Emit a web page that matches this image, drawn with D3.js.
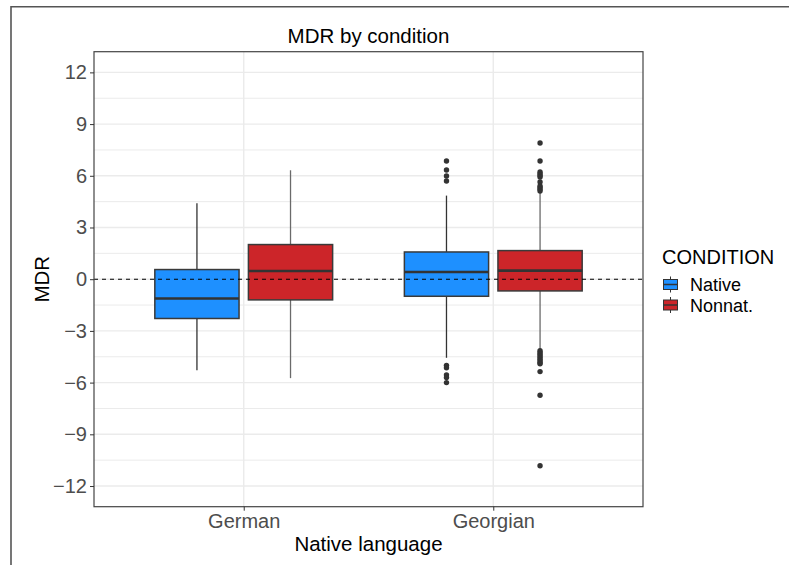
<!DOCTYPE html>
<html><head><meta charset="utf-8">
<script src="https://cdn.jsdelivr.net/npm/d3@7"></script>
<style>
html,body{margin:0;padding:0;background:#fff;}
svg{display:block;font-family:"Liberation Sans",Arial,sans-serif;}
</style></head>
<body><svg id="chart" width="789" height="565"></svg>
<script>
// ---- data ----
const categories = ["German", "Georgian"];
const conditions = ["Native", "Nonnat."];
const conditionColors = ["#1E90FF", "#CC2529"];
const yTicks = [-12, -9, -6, -3, 0, 3, 6, 9, 12];

// per group: [German-Native, German-Nonnat., Georgian-Native, Georgian-Nonnat.]
const groupCategory  = ["German", "German", "Georgian", "Georgian"];
const groupCondition = ["Native", "Nonnat.", "Native", "Nonnat."];
const whiskerLow  = [-5.28, -5.74, -4.56, -4.11];
const q1Values    = [-2.28, -1.20, -0.99, -0.68];
const medians     = [-1.12,  0.48,  0.42,  0.50];
const q3Values    = [ 0.56,  2.01,  1.58,  1.66];
const whiskerHigh = [ 4.41,  6.32,  4.85,  5.06];
const outliers = [
  [],
  [],
  [6.86, 6.34, 5.99, 5.70, -5.00, -5.14, -5.55, -5.70, -6.00],
  [7.90, 6.86, 6.22, 6.12, 6.02, 5.93, 5.64, 5.41, 5.32, 5.22, 5.12,
   -4.15, -4.25, -4.35, -4.45, -4.55, -4.65, -4.75, -4.85, -4.91, -5.36, -6.73, -10.82]
];

// ---- layout ----
const svg = d3.select("#chart");
const P = {left: 94, right: 643, top: 51.7, bottom: 506.7};

const x = d3.scalePoint().domain(categories).range([P.left, P.right]).padding(0.6);
const y = d3.scaleLinear().domain([-13.2, 13.2]).range([P.bottom, P.top]);
const color = d3.scaleOrdinal().domain(conditions).range(conditionColors);
const step = x.step();
const dodge = d3.scaleBand().domain(conditions).range([-0.375 * step, 0.375 * step]);
const boxW = dodge.bandwidth() * 0.9;

// outer frame
svg.append("path").attr("d", `M11,565 L11,6.7 L789,6.7`)
  .attr("fill", "none").attr("stroke", "#555").attr("stroke-width", 1.6);

const g = svg.append("g");

// gridlines
const minorTicks = d3.range(-10.5, 11, 3);
g.selectAll(".minor").data(minorTicks).join("line")
  .attr("x1", P.left).attr("x2", P.right)
  .attr("y1", d => y(d)).attr("y2", d => y(d))
  .attr("stroke", "#ebebeb").attr("stroke-width", 1);
g.selectAll(".major").data(yTicks).join("line")
  .attr("x1", P.left).attr("x2", P.right)
  .attr("y1", d => y(d)).attr("y2", d => y(d))
  .attr("stroke", "#ebebeb").attr("stroke-width", 1.4);
g.selectAll(".vmajor").data(categories).join("line")
  .attr("x1", d => x(d)).attr("x2", d => x(d))
  .attr("y1", P.top).attr("y2", P.bottom)
  .attr("stroke", "#ebebeb").attr("stroke-width", 1.4);

// boxes
const groups = groupCategory.map((c, i) => ({
  cat: c, cond: groupCondition[i], lo: whiskerLow[i], q1: q1Values[i], med: medians[i],
  q3: q3Values[i], hi: whiskerHigh[i], out: outliers[i]
}));
const cx = d => x(d.cat) + dodge(d.cond) + dodge.bandwidth() / 2;
const whiskerColor = cond => cond === "Native" ? "#333" : "#6a6a6a";

const bg = g.selectAll(".box").data(groups).join("g");
bg.append("line").attr("x1", cx).attr("x2", cx)
  .attr("y1", d => y(d.q3)).attr("y2", d => y(d.hi))
  .attr("stroke", d => whiskerColor(d.cond)).attr("stroke-width", 1.3);
bg.append("line").attr("x1", cx).attr("x2", cx)
  .attr("y1", d => y(d.q1)).attr("y2", d => y(d.lo))
  .attr("stroke", d => whiskerColor(d.cond)).attr("stroke-width", 1.3);
bg.append("rect")
  .attr("x", d => cx(d) - boxW / 2).attr("width", boxW)
  .attr("y", d => y(d.q3)).attr("height", d => y(d.q1) - y(d.q3))
  .attr("fill", d => color(d.cond)).attr("stroke", "#3a3a3a").attr("stroke-width", 1.5);
bg.append("line")
  .attr("x1", d => cx(d) - boxW / 2).attr("x2", d => cx(d) + boxW / 2)
  .attr("y1", d => y(d.med)).attr("y2", d => y(d.med))
  .attr("stroke", "#333").attr("stroke-width", 2.6);
bg.selectAll("circle").data(d => d.out.map(v => ({v, d}))).join("circle")
  .attr("cx", o => cx(o.d)).attr("cy", o => y(o.v)).attr("r", 2.7)
  .attr("fill", "#333");

// zero reference line
g.append("line").attr("x1", P.left).attr("x2", P.right)
  .attr("y1", y(0)).attr("y2", y(0))
  .attr("stroke", "#000").attr("stroke-width", 1.1).attr("stroke-dasharray", "4,4");

// panel border
g.append("rect").attr("x", P.left).attr("y", P.top)
  .attr("width", P.right - P.left).attr("height", P.bottom - P.top)
  .attr("fill", "none").attr("stroke", "#444").attr("stroke-width", 1.2);

// axes
const yAxis = svg.append("g").attr("transform", `translate(${P.left},0)`)
  .call(d3.axisLeft(y).tickValues(yTicks).tickSize(4).tickPadding(3).tickFormat(d3.format("d")));
const xAxis = svg.append("g").attr("transform", `translate(0,${P.bottom})`)
  .call(d3.axisBottom(x).tickSize(4).tickPadding(3));
[yAxis, xAxis].forEach(a => {
  a.select(".domain").remove();
  a.selectAll(".tick line").attr("stroke", "#333").attr("stroke-width", 1);
  a.selectAll(".tick text").attr("fill", "#4d4d4d").style("font-size", "20px")
    .style("font-family", "Liberation Sans, Arial, sans-serif");
});

// titles
svg.append("text").attr("x", (P.left + P.right) / 2).attr("y", 42.7)
  .attr("text-anchor", "middle").style("font-size", "20.5px").attr("fill", "#000")
  .text("MDR by condition");
svg.append("text").attr("x", (P.left + P.right) / 2).attr("y", 551)
  .attr("text-anchor", "middle").style("font-size", "20.5px").attr("fill", "#000")
  .text("Native language");
svg.append("text").attr("transform", `translate(49,${(P.top + P.bottom) / 2}) rotate(-90)`)
  .attr("text-anchor", "middle").style("font-size", "20.5px").attr("fill", "#000")
  .text("MDR");

// legend
const lg = svg.append("g").attr("transform", "translate(662,0)");
lg.append("text").attr("x", 0).attr("y", 264).style("font-size", "20px").attr("fill", "#000")
  .text("CONDITION");
const items = lg.selectAll(".item").data(conditions).join("g")
  .attr("transform", (d, i) => `translate(0,${276 + i * 20.5})`);
items.append("line").attr("x1", 8.5).attr("x2", 8.5).attr("y1", 0.5).attr("y2", 16.5)
  .attr("stroke", "#333").attr("stroke-width", 1);
items.append("rect").attr("x", 1.5).attr("y", 3.5).attr("width", 14).attr("height", 10)
  .attr("fill", d => color(d)).attr("stroke", "#333").attr("stroke-width", 1);
items.append("line").attr("x1", 1.5).attr("x2", 15.5).attr("y1", 8.5).attr("y2", 8.5)
  .attr("stroke", "#333").attr("stroke-width", 1.5);
items.append("text").attr("x", 28).attr("y", 15).style("font-size", "18px").attr("fill", "#000")
  .text(d => d);
</script></body></html>
